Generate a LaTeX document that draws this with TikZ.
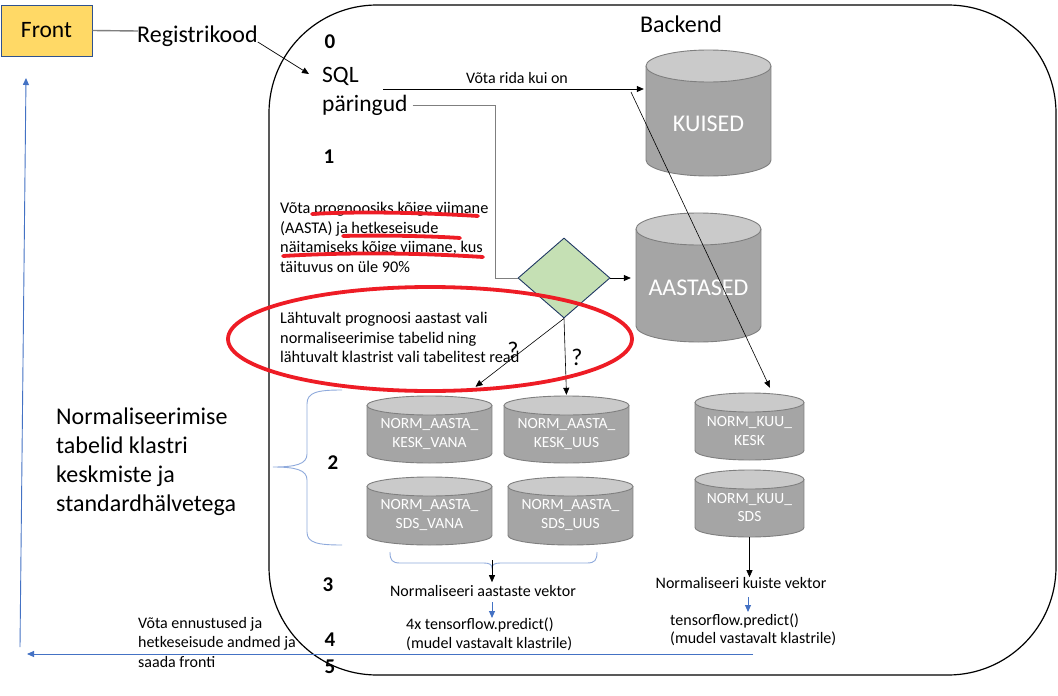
\documentclass[tikz,border=0pt]{standalone}
\usepackage{fontspec}
\setmainfont{Carlito}
\usetikzlibrary{arrows.meta,decorations.pathreplacing,shapes.geometric}

\definecolor{frontfill}{HTML}{FFD966}
\definecolor{frontline}{HTML}{2F528F}
\definecolor{cylbodyc}{HTML}{A5A5A5}
\definecolor{cyltopc}{HTML}{CACACA}
\definecolor{cyledge}{HTML}{7F7F7F}
\definecolor{diafill}{HTML}{C5E0B4}
\definecolor{dialine}{HTML}{203864}
\definecolor{markred}{HTML}{EE1C25}
\definecolor{retblue}{HTML}{4472C4}
\definecolor{bracecol}{HTML}{8FAADC}
\definecolor{greyline}{HTML}{7F7F7F}

\newcommand\fsz[2]{\fontsize{#1pt}{#2pt}\selectfont}

% name, L, R, T, B, ry, text dy, font, text
\newcommand\dbcyl[9]{%
  \pgfmathsetmacro\cyC{(#2+#3)/2}%
  \pgfmathsetmacro\cyRX{(#3-#2)/2}%
  \pgfmathsetmacro\cyTop{#4+#6}%
  \pgfmathsetmacro\cyBot{#5-#6}%
  \pgfmathsetmacro\cyW{#3-#2}%
  \pgfmathsetmacro\cyH{#5-#4}%
  \pgfmathsetmacro\cyM{(#4+#5)/2}%
  \pgfmathsetmacro\cyTY{(#4+#5)/2+#7}%
  \fill[cylbodyc] (#2,\cyTop) rectangle (#3,\cyBot);
  \fill[cylbodyc] (\cyC,\cyBot) ellipse[x radius=\cyRX, y radius=#6];
  \draw[cyledge, line width=0.9pt] (#2,\cyTop) -- (#2,\cyBot)
     arc[start angle=180, end angle=0, x radius=\cyRX, y radius=#6] -- (#3,\cyTop);
  \filldraw[draw=cyledge, line width=0.9pt, fill=cyltopc] (\cyC,\cyTop) ellipse[x radius=\cyRX, y radius=#6];
  \node[inner sep=0pt, minimum width=\cyW pt, minimum height=\cyH pt] (#1) at (\cyC,\cyM) {};
  \node[cyltext, font=#8] (#1-t) at (\cyC,\cyTY) {#9};
}

\begin{document}
\begin{tikzpicture}[x=1pt,y=-1pt,
  arr/.style={-{Triangle[length=7pt,width=6pt]}, line width=0.7pt, black},
  blarr/.style={-{Triangle[length=7pt,width=6pt]}, line width=0.9pt, retblue},
  txt/.style={inner sep=0pt, align=left, text=black},
  num/.style={inner sep=0pt, font=\fsz{21}{24}\bfseries},
  redmark/.style={draw=markred, line width=3.8pt, line cap=round},
  cyltext/.style={inner sep=0pt, align=center, text=white},
  bracel/.style={draw=bracecol, line width=0.9pt}
]
\useasboundingbox (0,0) rectangle (1058,696);
\fill[white] (0,0) rectangle (1058,696);

% Backend container
\node[draw=black, line width=1.2pt, rounded corners=108pt, minimum width=787pt,
      minimum height=670pt, inner sep=0pt] (backend) at (662.5,340) {};
\node[inner sep=0pt, font=\fsz{24}{28}] (backendlbl) at (681,24) {Backend};

% Front
\node[draw=frontline, fill=frontfill, line width=1pt, minimum width=91pt,
      minimum height=51pt, inner sep=0pt, font=\fsz{23.5}{27}] (front) at (46.5,30.5) {Front};
\node[txt, font=\fsz{24}{28}, anchor=west] (reg) at (137,36) {Registrikood};
\coordinate (regin) at (138,31);
\draw[greyline, line width=1.4pt] (front.east) -- (regin);

% SQL
\node[txt, font=\fsz{23.5}{27}, anchor=west] (sql) at (322,76) {SQL};
\node[txt, font=\fsz{23.5}{27}, anchor=west] (par) at (322,105) {päringud};
\draw[arr] ([yshift=-6pt]reg.east) -- ([xshift=-13pt,yshift=2pt]sql.west);

% step numbers
\node[num] (n0) at (330,42) {0};
\node[num] (n1) at (329,157) {1};
\node[num] (n2) at (333,463) {2};
\node[num] (n3) at (328,585) {3};
\node[num] (n4) at (330,640) {4};
\node[num] (n5) at (330,667) {5};

% cylinders
\dbcyl{kuised}{646}{771}{50}{176}{16}{11}{\fsz{24}{28}}{KUISED}
\dbcyl{aastased}{636}{761}{213}{342}{16}{10}{\fsz{24}{28}}{AASTASED}
\dbcyl{keskvana}{367}{492}{396}{463}{9.5}{4.5}{\fsz{15.5}{18.5}}{NORM\_AASTA\_\\KESK\_VANA}
\dbcyl{keskuus}{504}{629}{396}{463}{9.5}{4.5}{\fsz{15.5}{18.5}}{NORM\_AASTA\_\\KESK\_UUS}
\dbcyl{sdsvana}{367}{492}{477}{545}{9.5}{4}{\fsz{15.5}{18.5}}{NORM\_AASTA\_\\SDS\_VANA}
\dbcyl{sdsuus}{508}{633}{477}{545}{9.5}{4}{\fsz{15.5}{18.5}}{NORM\_AASTA\_\\SDS\_UUS}
\dbcyl{kuukesk}{695}{804}{393}{460}{9.5}{4.5}{\fsz{15.5}{18.5}}{NORM\_KUU\_\\KESK}
\dbcyl{kuusds}{695}{804}{470}{537}{9.5}{4}{\fsz{15.5}{18.5}}{NORM\_KUU\_\\SDS}

% Võta rida kui on
\coordinate (sqlout) at (383,89);
\draw[arr, shorten >=2pt] (sqlout) -- (kuised.west |- sqlout);
\node[inner sep=0pt, font=\fsz{16}{19}] (vrida) at (517,78) {Võta rida kui on};

% diagonal to NORM_KUU_KESK
\coordinate (diagstart) at (631,92);
\draw[arr, line width=0.6pt] (diagstart) -- ([xshift=20.5pt,yshift=5pt]kuukesk.north);

% diamond
\node[diamond, draw=dialine, fill=diafill, line width=0.9pt, minimum width=92pt,
      minimum height=80pt, inner sep=0pt] (dia) at (564,278) {};
\draw[greyline, line width=0.8pt] ([xshift=5pt]par.east) -| (495,278) -- (dia.west);
\draw[arr, shorten >=5pt] (dia.east) -- (aastased.west |- dia.east);
\draw[arr, line width=0.6pt] (dia.south) -- ([xshift=46pt,yshift=9pt]keskvana.north);
\draw[arr, line width=0.6pt, shorten >=1pt] (dia.south) -- (keskuus.north);
\node[inner sep=0pt, font=\fsz{24}{28}] (q1) at (513,350) {?};
\node[inner sep=0pt, font=\fsz{24}{28}] (q2) at (577,357) {?};

% text blocks
\node[txt, font=\fsz{16.3}{19.5}, anchor=north west] (t1) at (280,202)
  {Võta prognoosiks kõige viimane\\(AASTA) ja hetkeseisude\\näitamiseks kõige viimane, kus\\täituvus on üle 90\%};
\node[txt, font=\fsz{16.3}{19.5}, anchor=north west] (t2) at (280,312)
  {Lähtuvalt prognoosi aastast vali\\normaliseerimise tabelid ning\\lähtuvalt klastrist vali tabelitest read};
\node[txt, font=\fsz{24}{28.8}, anchor=north west] (tleft) at (56,408)
  {Normaliseerimise\\tabelid klastri\\keskmiste ja\\standardhälvetega};

% braces
\coordinate (lbtop) at (342,390);
\coordinate (lbtip) at (273,467);
\coordinate (lbbot) at (342,545);
\draw[bracel] (lbtop) .. controls (318,390) and (307,392) .. (307,404) -- (307,454)
   .. controls (307,464) and (296,467) .. (lbtip)
   .. controls (296,467) and (307,470) .. (307,480) -- (307,532)
   .. controls (307,543) and (318,545) .. (lbbot);
\coordinate (bbl) at (390,552);
\coordinate (bbr) at (597,552);
\coordinate (bracetip) at (492,568);
\draw[bracel] (bbl) .. controls (390,560) and (392,563) .. (400,563) -- (484,563)
   .. controls (490,563) and (492,565) .. (bracetip)
   .. controls (492,565) and (494,563) .. (500,563) -- (587,563)
   .. controls (595,563) and (597,560) .. (bbr);

% year vector
\node[inner sep=0pt, font=\fsz{16}{19}] (avekt) at (483,591) {Normaliseeri aastaste vektor};
\coordinate (bracetop) at (492,560);
\draw[arr] (bracetop) -- ([yshift=3pt]avekt.north -| bracetop);
\coordinate (a1s) at (492,602);
\coordinate (a1e) at (492,618);
\draw[blarr] (a1s) -- (a1e);
\node[txt, font=\fsz{16}{18.5}, anchor=north west] (atf) at (406,618)
  {4x tensorflow.predict()\\(mudel vastavalt klastrile)};

% month vector
\node[inner sep=0pt, font=\fsz{16}{19}] (kvekt) at (741,583) {Normaliseeri kuiste vektor};
\draw[arr] (kuusds.south) -- (kvekt.north -| kuusds.south);
\coordinate (b1s) at (748,597);
\coordinate (b1e) at (748,612);
\draw[blarr] (b1s) -- (b1e);
\node[txt, font=\fsz{16}{18}, anchor=north west] (ktf) at (670,614)
  {tensorflow.predict()\\(mudel vastavalt klastrile)};

% return path
\node[txt, font=\fsz{16}{19.5}, anchor=north west] (tret) at (138,617)
  {Võta ennustused ja\\hetkeseisude andmed ja\\saada fronti};
\coordinate (retR) at (753,654);
\coordinate (retL) at (27,654);
\draw[blarr] (retR) -- (retL);
\coordinate (upB) at (20,647);
\coordinate (upT) at (26,78);
\draw[blarr] (upB) -- (upT);

% red marks
\draw[redmark] (312,214) .. controls (360,211) and (430,213) .. (478,216);
\draw[redmark] (343,236) .. controls (380,235) and (430,236) .. (460,238);
\draw[redmark] (283,256) .. controls (350,252) and (420,253) .. (483,257);
\draw[redmark] (430,339) ellipse[x radius=202, y radius=52];
\end{tikzpicture}
\end{document}
